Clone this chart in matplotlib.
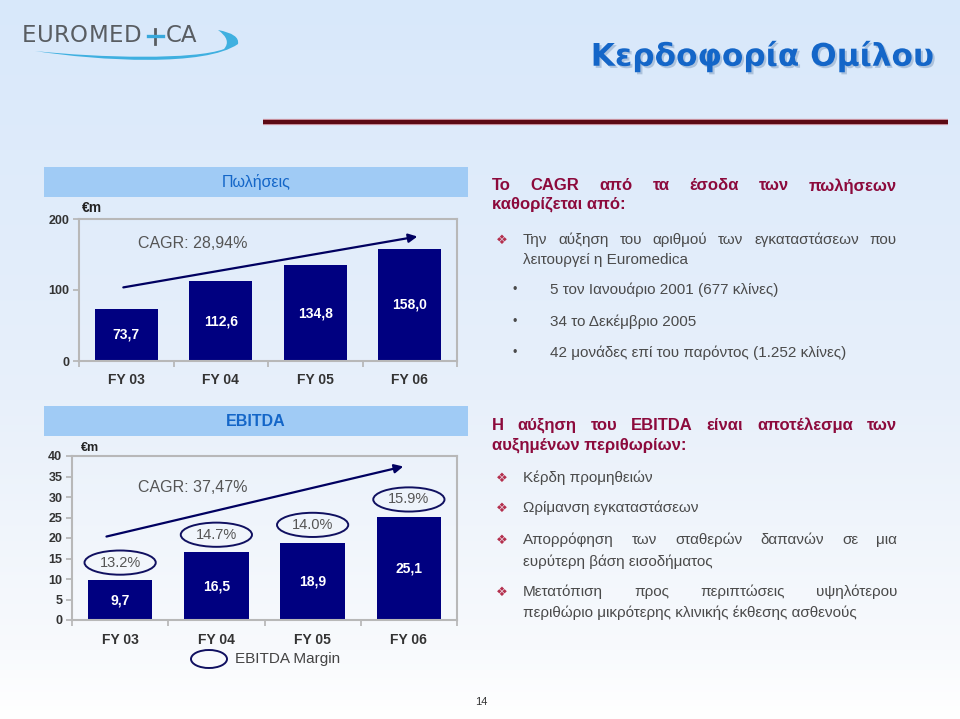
import numpy as np
import matplotlib
matplotlib.use("Agg")
import matplotlib.pyplot as plt
import matplotlib.patheffects as pe
from matplotlib.patches import Rectangle, Ellipse, PathPatch
from matplotlib.path import Path

# ---- data ----
years = ["FY 03", "FY 04", "FY 05", "FY 06"]
sales = [73.7, 112.6, 134.8, 158.0]
sales_labels = ["73,7", "112,6", "134,8", "158,0"]
sales_ticks = [0, 100, 200]
ebitda = [9.7, 16.5, 18.9, 25.1]
ebitda_labels = ["9,7", "16,5", "18,9", "25,1"]
ebitda_ticks = [0, 5, 10, 15, 20, 25, 30, 35, 40]
margins = ["13.2%", "14.7%", "14.0%", "15.9%"]

plt.rcParams["font.family"] = ["Liberation Sans", "DejaVu Sans"]

W, H = 960, 719
NAVY = "#000080"
GREY_TXT = "#4a4a4a"
MAROON = "#8c0a3c"

fig = plt.figure(figsize=(9.6, 7.19), dpi=100)

# full-slide layer in pixel coordinates
bg = fig.add_axes([0, 0, 1, 1])
bg.set_xlim(0, W)
bg.set_ylim(H, 0)
bg.axis("off")

# background gradient (light blue -> white)
stops_y = [0, 400, 650, H]
stops_c = np.array([[216, 232, 250], [232, 240, 250], [248, 250, 253], [255, 255, 255]]) / 255
yy = np.arange(H)
grad = np.stack([np.interp(yy, stops_y, stops_c[:, k]) for k in range(3)], axis=-1)[:, None, :]
bg.imshow(grad, extent=(0, W, H, 0), aspect="auto", zorder=0)

renderer = fig.canvas.get_renderer()


def rect(l, t, r, b):
    return [l / W, 1 - b / H, (r - l) / W, (b - t) / H]


def spread(items, x0, x1, y, **kw):
    # place the items so that they fill x0..x1 exactly (justified)
    texts = [bg.text(x0, y, s, va="center", ha="left", **kw) for s in items]
    widths = [t.get_window_extent(renderer).width for t in texts]
    gap = (x1 - x0 - sum(widths)) / (len(texts) - 1)
    x = x0
    for t, w in zip(texts, widths):
        t.set_x(x)
        x += w + gap


# ---- logo ----
logo_kw = dict(fontsize=16.5, color="#595d62", family="DejaVu Sans", zorder=3)
spread(list("EUROMED"), 22, 141, 36, **logo_kw)
bg.text(166, 36, "CA", va="center", ha="left", **logo_kw)
bg.plot([155, 155], [28.5, 43.5], color="#595d62", lw=2, zorder=3)
bg.plot([148, 163], [36, 36], color="#38a8dc", lw=2.4, zorder=4)
verts = [(35, 51), (100, 61), (205, 67), (238, 44), (240, 34), (218, 30),
         (232, 40), (224, 49), (195, 60), (100, 58), (35, 51), (35, 51)]
codes = [Path.MOVETO, Path.CURVE4, Path.CURVE4, Path.CURVE4, Path.CURVE3, Path.CURVE3,
         Path.CURVE3, Path.CURVE3, Path.CURVE4, Path.CURVE4, Path.CURVE4, Path.CLOSEPOLY]
bg.add_patch(PathPatch(Path(verts, codes), facecolor="#3fb0e0", edgecolor="none", zorder=3))

# ---- slide title + rule ----
title = bg.text(933, 56, "Κερδοφορία Ομίλου", fontsize=21, fontweight="bold", color="#1466c8",
                family="DejaVu Sans", ha="right", va="center", zorder=3,
                path_effects=[pe.SimplePatchShadow(offset=(1.5, -1.5), shadow_rgbFace="#7f9cc0",
                                                   alpha=0.5), pe.Normal()])
tw = title.get_window_extent(renderer).width
title.set_fontsize(21 * 343 / tw)
bg.plot([263, 948], [122, 122], color="#5c0a14", lw=3, solid_capstyle="butt", zorder=3,
        path_effects=[pe.withStroke(linewidth=4.5, foreground="#d09aa8")])

# ---- chart header bands ----
for top, label in [(167, "Πωλήσεις"), (406, "EBITDA")]:
    bg.add_patch(Rectangle((44, top), 424, 30, facecolor="#a0cbf5", edgecolor="none", zorder=1))
    bg.text(256, top + 15, label, fontsize=11.5, color="#1466c8", ha="center", va="center",
            fontweight="bold" if label == "EBITDA" else "normal", zorder=3)

bg.text(82, 208, "€m", fontsize=10, fontweight="bold", color="#222222", va="center")
bg.text(81, 448, "€m", fontsize=9, fontweight="bold", color="#222222", va="center")


def style_chart(ax, values, value_labels, ticks, ytick_size):
    x = np.arange(len(years))
    ax.bar(x, values, width=0.67, color=NAVY, zorder=2)
    for xi_, v, lab in zip(x, values, value_labels):
        ax.text(xi_, v / 2, lab, ha="center", va="center", color="white",
                fontsize=10, fontweight="bold", zorder=3)
    ax.set_xlim(-0.5, len(years) - 0.5)
    ax.set_ylim(0, ticks[-1])
    ax.set_yticks(ticks)
    ax.set_xticks(x, years)
    ax.set_xticks(np.arange(-0.5, len(years), 1), minor=True)
    ax.tick_params(axis="x", which="major", length=0, pad=9, labelsize=10, labelcolor="#333333")
    ax.tick_params(axis="x", which="minor", length=4, width=1.2, color="#b4b4b4")
    ax.tick_params(axis="y", length=4, width=1.2, color="#b4b4b4", labelsize=ytick_size,
                   labelcolor="#333333", pad=3)
    for lab in ax.get_xticklabels() + ax.get_yticklabels():
        lab.set_fontweight("bold")
    for s in ax.spines.values():
        s.set_color("#b8b8b8")
        s.set_linewidth(1.5)
    ax.patch.set_alpha(0)


# ---- sales chart ----
ax1 = fig.add_axes(rect(79, 219, 457, 361))
style_chart(ax1, sales, sales_labels, sales_ticks, 9)
ax1.annotate("", xy=(3.11, 176), xytext=(-0.06, 103),
             arrowprops=dict(arrowstyle="-|>", color="#000060", lw=1.6, mutation_scale=13))
ax1.text(0.70, 166, "CAGR: 28,94%", fontsize=11.5, color="#555555", ha="center", va="center")

# ---- EBITDA chart ----
ax2 = fig.add_axes(rect(72, 456, 457, 620))
style_chart(ax2, ebitda, ebitda_labels, ebitda_ticks, 9)
ax2.annotate("", xy=(2.97, 37.6), xytext=(-0.17, 20.2),
             arrowprops=dict(arrowstyle="-|>", color="#000060", lw=1.6, mutation_scale=13))
ax2.text(0.75, 32.4, "CAGR: 37,47%", fontsize=11.5, color="#555555", ha="center", va="center")
for i, (v, m) in enumerate(zip(ebitda, margins)):
    ax2.add_patch(Ellipse((i, v + 4.3), 0.74, 5.9, facecolor="none", edgecolor="#101060",
                          lw=1.4, zorder=3))
    ax2.text(i, v + 4.3, m, ha="center", va="center", fontsize=10.5, color="#555555", zorder=4)

# legend
bg.add_patch(Ellipse((209, 659), 36, 18, facecolor="none", edgecolor="#101060", lw=1.4))
bg.text(235, 659, "EBITDA Margin", fontsize=11, color="#444444", va="center")

# ---- right-hand text ----
title_kw = dict(fontsize=12, fontweight="bold", color=MAROON)
body_kw = dict(fontsize=11, color=GREY_TXT)


def justified(line, x0, x1, y, **kw):
    spread(line.split(), x0, x1, y, **kw)


def bullet(y):
    bg.text(502, y, "❖", fontsize=9.5, color="#b4304e", ha="center", va="center",
            family="DejaVu Sans")


justified("Το CAGR από τα έσοδα των πωλήσεων", 492, 897, 186, **title_kw)
bg.text(492, 204, "καθορίζεται από:", va="center", **title_kw)
bullet(240)
justified("Την αύξηση του αριθμού των εγκαταστάσεων που", 523, 897, 240, **body_kw)
bg.text(523, 260, "λειτουργεί η Euromedica", va="center", **body_kw)
for y, line in [(290, "5 τον Ιανουάριο 2001 (677 κλίνες)"),
                (322, "34 το Δεκέμβριο 2005"),
                (353, "42 μονάδες επί του παρόντος (1.252 κλίνες)")]:
    bg.text(515, y, "•", fontsize=9, color=GREY_TXT, ha="center", va="center")
    bg.text(550, y, line, va="center", **body_kw)

justified("Η αύξηση του EBITDA είναι αποτέλεσμα των", 492, 897, 425, **title_kw)
bg.text(492, 445, "αυξημένων περιθωρίων:", va="center", **title_kw)
bullet(478)
bg.text(523, 478, "Κέρδη προμηθειών", va="center", **body_kw)
bullet(508)
bg.text(523, 508, "Ωρίμανση εγκαταστάσεων", va="center", **body_kw)
bullet(540)
justified("Απορρόφηση των σταθερών δαπανών σε μια", 523, 897, 540, **body_kw)
bg.text(523, 562, "ευρύτερη βάση εισοδήματος", va="center", **body_kw)
bullet(592)
justified("Μετατόπιση προς περιπτώσεις υψηλότερου", 523, 897, 592, **body_kw)
bg.text(523, 613, "περιθώριο μικρότερης κλινικής έκθεσης ασθενούς", va="center", **body_kw)

# page number
bg.text(481, 702, "14", fontsize=8, color="#333333", ha="center", va="center")

fig.savefig("out.png", dpi=100)
